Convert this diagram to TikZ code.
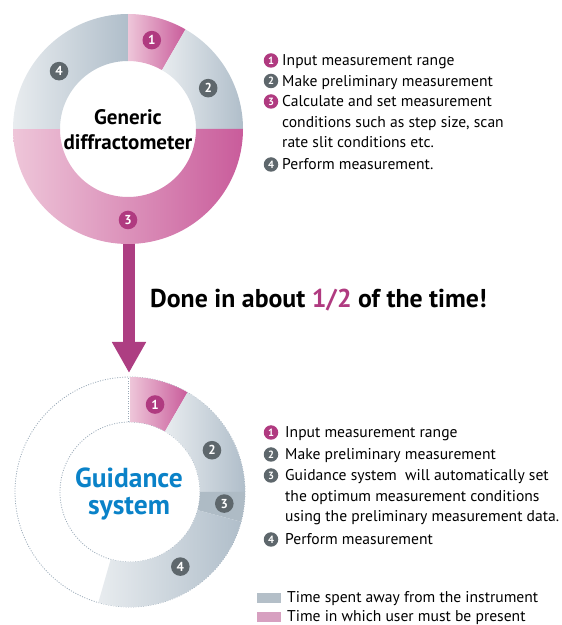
\documentclass[tikz,border=0pt]{standalone}
\usepackage{fontspec}
\setmainfont{PT Sans}
\usetikzlibrary{arrows.meta,calc}
\definecolor{pinkL}{HTML}{EEC6D9}
\definecolor{pinkD}{HTML}{C95C9B}
\definecolor{grayL}{HTML}{E8ECEF}
\definecolor{grayD}{HTML}{B0BECA}
\definecolor{grayM}{HTML}{AEBBC5}
\definecolor{badgeP}{HTML}{B03A80}
\definecolor{badgeG}{HTML}{5E676C}
\definecolor{arrowc}{HTML}{AD3E82}
\definecolor{blueT}{HTML}{0A82C8}
\definecolor{dotc}{HTML}{9AAAB8}
\definecolor{legG}{HTML}{B4BFC8}
\definecolor{legP}{HTML}{D7A0C0}
\newcommand{\ringseg}[6]{%
  \path[#6] ($(#1)+(#2:#4)$) arc[start angle=#2,end angle=#3,radius=#4]
    -- ($(#1)+(#3:#5)$) arc[start angle=#3,end angle=#2,radius=#5] -- cycle;}
\tikzset{
  pinkseg/.style={left color=pinkL,right color=pinkD},
  grayseg/.style={left color=grayL,right color=grayD},
  badge/.style={circle,inner sep=0pt,minimum size=18.6pt,text=white,
    font=\bfseries\fontsize{13}{13}\selectfont},
  lbadge/.style={circle,inner sep=0pt,minimum size=14.5pt,text=white,
    font=\bfseries\fontsize{10.5}{10.5}\selectfont},
  listtxt/.style={anchor=base west,inner sep=0pt,font=\fontsize{15.6}{15.6}\selectfont},
  legbox/.style={inner sep=0pt,minimum width=24pt,minimum height=10pt},
  dotline/.style={draw=dotc,line width=0.8pt,dash pattern=on 1pt off 1.5pt},
}
\begin{document}
\begin{tikzpicture}[x=1pt,y=1pt]
\useasboundingbox (0,0) rectangle (562,625);
% centres
\coordinate (tc) at (128,496);
\coordinate (bc) at (130,133);
% arrow
\coordinate (astart) at (129,385);
\coordinate (aend) at (129,252);
\draw[arrowc,line width=12pt,-{Triangle[width=32pt,length=31pt]}] (astart) -- (aend);
% top donut
\ringseg{tc}{90}{60}{115}{68}{pinkseg}
\ringseg{tc}{60}{0}{115}{68}{grayseg}
\ringseg{tc}{0}{-180}{115}{68}{pinkseg}
\ringseg{tc}{180}{90}{115}{68}{grayseg}
\node[badge,fill=badgeP] (t1) at ($(tc)+(75:92)$) {1};
\node[badge,fill=badgeG] (t2) at ($(tc)+(27:90)$) {2};
\node[badge,fill=badgeP] (t3) at ($(tc)+(-90:91)$) {3};
\node[badge,fill=badgeG] (t4) at ($(tc)+(140:90)$) {4};
\node[align=center,font=\bfseries\fontsize{21}{25}\selectfont] (tt) at ($(tc)+(0,-1)$) {Generic\\diffractometer};
% middle text
\node[anchor=base west,inner sep=0pt,font=\bfseries\fontsize{25.8}{25.8}\selectfont] (done) at (150,317) {Done in about \textcolor{badgeP}{1/2} of the time!};
% bottom donut
\draw[dotline] (bc) circle[radius=115];
\draw[dotline] (bc) circle[radius=70];
\coordinate (dv1) at ($(bc)+(-2,70)$);
\coordinate (dv2) at ($(bc)+(-2,115)$);
\draw[dotline] (dv1) -- (dv2);
\ringseg{bc}{90}{60}{115}{70}{pinkseg}
\ringseg{bc}{60}{0}{115}{70}{grayseg}
\ringseg{bc}{0}{-15}{115}{70}{fill=grayM}
\ringseg{bc}{-15}{-106}{115}{70}{grayseg}
\node[badge,fill=badgeP] (b1) at ($(bc)+(74:91)$) {1};
\node[badge,fill=badgeG] (b2) at ($(bc)+(27:92)$) {2};
\node[badge,fill=badgeG] (b3) at ($(bc)+(-7:95)$) {3};
\node[badge,fill=badgeG] (b4) at ($(bc)+(-56:90)$) {4};
\node[align=center,text=blueT,font=\bfseries\fontsize{27.5}{27}\selectfont] (bt) at ($(bc)+(-1,-2)$) {Guidance\\system};
% top list
\node[lbadge,fill=badgeP] (l1) at (271,564.5) {1};
\node[listtxt] (l1t) at (282,559) {Input measurement range};
\node[lbadge,fill=badgeG] (l2) at (271,544) {2};
\node[listtxt] (l2t) at (282,538.5) {Make preliminary measurement};
\node[lbadge,fill=badgeP] (l3) at (271,523.5) {3};
\node[listtxt] (l3t) at (282,518) {Calculate and set measurement};
\node[listtxt] (l3u) at (282,497.5) {conditions such as step size, scan};
\node[listtxt] (l3v) at (282,477) {rate slit conditions etc.};
\node[lbadge,fill=badgeG] (l4) at (271,460.5) {4};
\node[listtxt] (l4t) at (282,455) {Perform measurement.};
% bottom list
\node[lbadge,fill=badgeP] (m1) at (271,192.5) {1};
\node[listtxt] (m1t) at (285,187) {Input measurement range};
\node[lbadge,fill=badgeG] (m2) at (271,170.5) {2};
\node[listtxt] (m2t) at (285,165) {Make preliminary measurement};
\node[lbadge,fill=badgeG] (m3) at (271,149.5) {3};
\node[listtxt] (m3t) at (285,144) {Guidance system\ \ will automatically set};
\node[listtxt] (m3u) at (285,123) {the optimum measurement conditions};
\node[listtxt] (m3v) at (285,103) {using the preliminary measurement data.};
\node[lbadge,fill=badgeG] (m4) at (271,85.5) {4};
\node[listtxt] (m4t) at (285,80) {Perform measurement};
% legend
\node[legbox,fill=legG] (g1) at (269,27) {};
\node[listtxt] (g1t) at (287,23) {Time spent away from the instrument};
\node[legbox,fill=legP] (g2) at (269,8) {};
\node[listtxt] (g2t) at (287,3) {Time in which user must be present};
\end{tikzpicture}
\end{document}
